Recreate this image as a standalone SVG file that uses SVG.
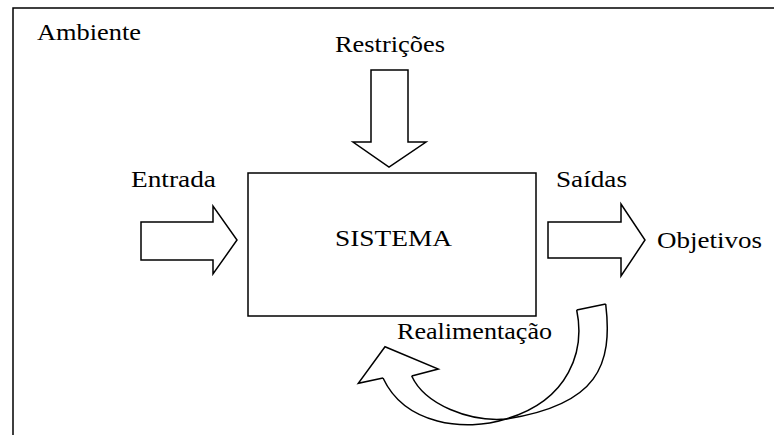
<svg xmlns="http://www.w3.org/2000/svg" width="774" height="435" viewBox="0 0 774 435">
  <style>
    .lbl { font-family: "Liberation Serif", "Times New Roman", serif; font-size: 24px; fill: #000; }
    .shape { fill: #fff; stroke: #000; stroke-width: 1.5; stroke-linejoin: miter; }
    .line { fill: none; stroke: #000; stroke-width: 1.5; }
  </style>
  <rect x="0" y="0" width="774" height="435" fill="#fff"/>

  <!-- environment frame (runs off the right and bottom edges) -->
  <g id="ambiente">
    <path class="line" d="M13,440 V8 H780"/>
    <text class="lbl" x="37" y="40" textLength="104" lengthAdjust="spacingAndGlyphs">Ambiente</text>
  </g>

  <!-- central system box -->
  <g id="sistema">
    <rect class="shape" x="248" y="173" width="288" height="143"/>
    <text class="lbl" x="335" y="246" textLength="117" lengthAdjust="spacingAndGlyphs">SISTEMA</text>
  </g>

  <g id="restricoes">
    <text class="lbl" x="335" y="52" textLength="110" lengthAdjust="spacingAndGlyphs">Restrições</text>
  </g>
  <g id="entrada">
    <text class="lbl" x="131" y="187" textLength="85" lengthAdjust="spacingAndGlyphs">Entrada</text>
  </g>
  <g id="saidas">
    <text class="lbl" x="556" y="187" textLength="71" lengthAdjust="spacingAndGlyphs">Saídas</text>
  </g>
  <g id="objetivos">
    <text class="lbl" x="657" y="248" textLength="105" lengthAdjust="spacingAndGlyphs">Objetivos</text>
  </g>
  <g id="realimentacao">
    <text class="lbl" x="397" y="339" textLength="155" lengthAdjust="spacingAndGlyphs">Realimentação</text>
  </g>

  <!-- block arrows -->
  <g id="connectors">
    <!-- restrictions, pointing down into the system -->
    <polygon class="shape" points="371,70 408,70 408,142 426,142 389,167 353,142 371,142"/>
    <!-- input, pointing right into the system -->
    <polygon class="shape" points="141,222 213,222 213,206 237,240 213,274 213,260 141,260"/>
    <!-- outputs, pointing right toward the objectives -->
    <polygon class="shape" points="548,222 621,222 621,204 645,240 621,276 621,258 548,258"/>
    <!-- feedback, curved ribbon arrow returning under the system -->
    <g id="feedback">
      <path class="line" d="M605.7,304 C613,365 598,405 506,419 C470,422 425,405 411.7,376"/>
      <path class="line" d="M576.7,310 C585,350 570,400 506,419 C465,432 405,425 383,378"/>
      <path class="line" d="M576.7,310 L605.7,304"/>
      <path class="line" d="M411.7,376 L438.3,369 L385,346.7 L358.3,383.3 L383,378" stroke-linejoin="miter"/>
    </g>
  </g>
</svg>
